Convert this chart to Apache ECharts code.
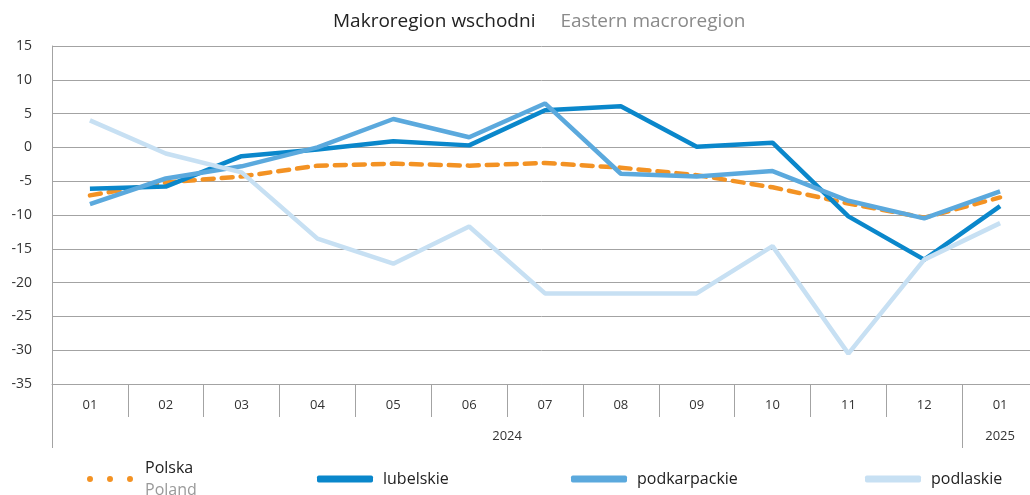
<!DOCTYPE html>
<html>
<head>
<meta charset="utf-8">
<script src="https://cdn.jsdelivr.net/npm/echarts@6/dist/echarts.min.js"></script>
<style>
  html, body { margin: 0; padding: 0; background: #fff; }
  #chart { width: 1030px; height: 495px; }
</style>
</head>
<body>
<div id="chart"></div>
<script>
// months on the axis (2024-01 .. 2025-01)
var months = ['01', '02', '03', '04', '05', '06', '07', '08', '09', '10', '11', '12', '01']
var years = ['2024', '2025']

// values
var polska = [-7.1, -5.2, -4.3, -2.7, -2.4, -2.7, -2.3, -3.0, -4.1, -5.9, -8.3, -10.4, -7.4]
var lubelskie = [-6.1, -5.8, -1.3, -0.3, 0.9, 0.3, 5.5, 6.1, 0.1, 0.7, -10.2, -16.6, -8.7]
var podkarpackie = [-8.4, -4.6, -2.8, 0.0, 4.2, 1.5, 6.5, -3.9, -4.3, -3.5, -7.9, -10.5, -6.5]
var podlaskie = [4.0, -0.9, -3.7, -13.5, -17.2, -11.7, -21.6, -21.6, -21.6, -14.6, -30.5, -16.6, -11.2]

var font = 'Open Sans'
var gridColor = '#a3a3a3'
// three dots for the dashed "Polska" legend key
var dotsIcon = 'path://M0,3a3,3 0 1,0 6,0a3,3 0 1,0 -6,0M20,3a3,3 0 1,0 6,0a3,3 0 1,0 -6,0M40,3a3,3 0 1,0 6,0a3,3 0 1,0 -6,0'

var chart = echarts.init(document.getElementById('chart'))

function legendBox(name, left, top, icon, w, h, fmt) {
	return {
		data: [{ name: name, icon: icon }],
		left: left,
		top: top,
		itemWidth: w,
		itemHeight: h,
		itemGap: 0,
		selectedMode: false,
		formatter: fmt,
		textStyle: {
			fontFamily: font,
			fontSize: 16,
			color: '#222',
			padding: [0, 0, 0, 5],
			rich: {
				a: { fontFamily: font, fontSize: 16, color: '#222', lineHeight: 22 },
				b: { fontFamily: font, fontSize: 16, color: '#999', lineHeight: 22 }
			}
		}
	}
}

var option = {
	animation: false,
	backgroundColor: '#fff',
	title: {
		text: '{a|Makroregion wschodni}     {b|Eastern macroregion}',
		left: 328,
		top: 7,
		textStyle: {
			fontWeight: 'normal',
			rich: {
				a: { fontFamily: font, fontSize: 19, fontWeight: 'normal', color: '#222' },
				b: { fontFamily: font, fontSize: 19, fontWeight: 'normal', color: '#8a8a8a' }
			}
		}
	},
	legend: [
		legendBox('Polska', 82, 455, dotsIcon, 50, 6, function () { return '{a|Polska}\n{b|Poland}' }),
		legendBox('lubelskie', 312, 466, 'roundRect', 56, 7),
		legendBox('podkarpackie', 566, 466, 'roundRect', 56, 7),
		legendBox('podlaskie', 860, 466, 'roundRect', 56, 7)
	],
	grid: {
		left: 52,
		top: 46,
		right: -8,
		bottom: 111,
		containLabel: false,
		outerBoundsMode: 'none'
	},
	xAxis: [{
		type: 'category',
		data: months,
		boundaryGap: true,
		axisLine: { show: true, onZero: false, lineStyle: { color: gridColor, width: 1 } },
		axisTick: {
			show: true,
			alignWithLabel: false,
			interval: 0,
			length: 33,
			lineStyle: { color: gridColor }
		},
		axisLabel: {
			interval: 0,
			margin: 15,
			fontFamily: font,
			fontSize: 13,
			color: '#333'
		}
	}, {
		// year group separators
		type: 'value',
		position: 'bottom',
		min: 0,
		max: 13,
		interval: 12,
		axisLine: { show: false, onZero: false },
		axisTick: { show: true, length: 64, lineStyle: { color: gridColor } },
		axisLabel: { show: false },
		splitLine: { show: false }
	}, {
		// year labels, centred under their months
		type: 'value',
		position: 'bottom',
		min: 0,
		max: 13,
		interval: 0.5,
		axisLine: { show: false, onZero: false },
		axisTick: { show: false },
		splitLine: { show: false },
		axisLabel: {
			margin: 46,
			fontFamily: font,
			fontSize: 13,
			color: '#333',
			formatter: function (v) {
				if (v === 6) return years[0]
				if (v === 12.5) return years[1]
				return ''
			}
		}
	}],
	yAxis: {
		type: 'value',
		min: -35,
		max: 15,
		interval: 5,
		axisLine: { show: true, lineStyle: { color: gridColor } },
		axisTick: { show: false },
		splitLine: { show: true, lineStyle: { color: gridColor, width: 1 } },
		axisLabel: {
			margin: 20,
			fontFamily: font,
			fontSize: 14,
			color: '#333'
		}
	},
	series: [{
		name: 'Polska',
		type: 'line',
		data: polska,
		symbol: 'none',
		itemStyle: { color: '#f39223' },
		lineStyle: { color: '#f39223', width: 4.5, type: [11, 8], cap: 'round' }
	}, {
		name: 'lubelskie',
		type: 'line',
		data: lubelskie,
		symbol: 'none',
		itemStyle: { color: '#0a87cb' },
		lineStyle: { color: '#0a87cb', width: 4.5 }
	}, {
		name: 'podkarpackie',
		type: 'line',
		data: podkarpackie,
		symbol: 'none',
		itemStyle: { color: '#5ba9dd' },
		lineStyle: { color: '#5ba9dd', width: 4.5 }
	}, {
		name: 'podlaskie',
		type: 'line',
		data: podlaskie,
		symbol: 'none',
		itemStyle: { color: '#c7e0f3' },
		lineStyle: { color: '#c7e0f3', width: 4.5 }
	}]
}

chart.setOption(option)
</script>
</body>
</html>
